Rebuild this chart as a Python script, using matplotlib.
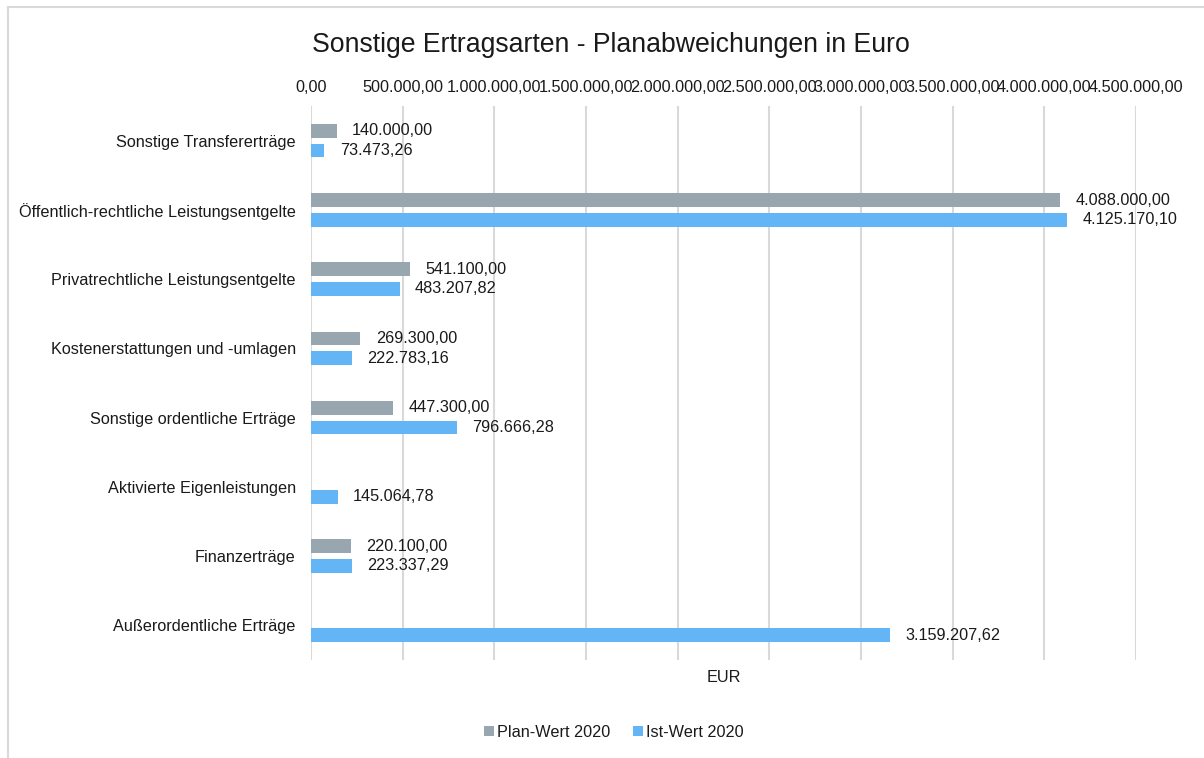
import numpy as np
import matplotlib
matplotlib.use("Agg")
import matplotlib.pyplot as plt
from matplotlib import font_manager as fm
from matplotlib.lines import Line2D
from matplotlib.ticker import FuncFormatter

# Narrow-Variante ausschliessen, damit normales Liberation Sans gewaehlt wird
fm.fontManager.ttflist = [f for f in fm.fontManager.ttflist if 'Narrow' not in f.fname]
plt.rcParams['font.family'] = ['Liberation Sans', 'DejaVu Sans']

# Daten
kategorien = [
    "Sonstige Transfererträge",
    "Öffentlich-rechtliche Leistungsentgelte",
    "Privatrechtliche Leistungsentgelte",
    "Kostenerstattungen und -umlagen",
    "Sonstige ordentliche Erträge",
    "Aktivierte Eigenleistungen",
    "Finanzerträge",
    "Außerordentliche Erträge",
]
plan_2020 = [140000.00, 4088000.00, 541100.00, 269300.00, 447300.00, np.nan, 220100.00, np.nan]
ist_2020 = [73473.26, 4125170.10, 483207.82, 222783.16, 796666.28, 145064.78, 223337.29, 3159207.62]
x_ticks = np.arange(0, 4500001, 500000)

col_plan = '#97A6AF'
col_ist = '#64B5F6'
txt = '#1a1a1a'
fs = 11.7


def de(v):
    s = f"{v:,.2f}"
    return s.replace(",", "X").replace(".", ",").replace("X", ".")


fig = plt.figure(figsize=(12.04, 7.58), dpi=100)
ax = fig.add_axes([0.2583, 0.1293, 0.6852, 0.7309])

y = np.arange(len(kategorien))
h = 0.2
off = 0.142
ax.barh(y - off, plan_2020, height=h, color=col_plan, label='Plan-Wert 2020', zorder=3)
ax.barh(y + off, ist_2020, height=h, color=col_ist, label='Ist-Wert 2020', zorder=3)

for i in range(len(kategorien)):
    if not np.isnan(plan_2020[i]):
        ax.annotate(de(plan_2020[i]), (plan_2020[i], y[i] - off), xytext=(11, 0),
                    textcoords='offset points', va='center', ha='left', fontsize=fs, color=txt)
    ax.annotate(de(ist_2020[i]), (ist_2020[i], y[i] + off), xytext=(11, 0),
                textcoords='offset points', va='center', ha='left', fontsize=fs, color=txt)

ax.set_xlim(0, 4500000)
ax.set_ylim(len(kategorien) - 0.5, -0.5)
ax.set_xticks(x_ticks)
ax.xaxis.set_major_formatter(FuncFormatter(lambda v, p: de(v)))
ax.xaxis.tick_top()
ax.tick_params(axis='x', length=0, pad=8, labelsize=fs, labelcolor=txt)
ax.set_yticks(y)
ax.set_yticklabels(kategorien)
ax.tick_params(axis='y', length=0, pad=11, labelsize=fs, labelcolor=txt)
ax.grid(axis='x', color='#D9D9D9', linewidth=1.5, zorder=0)
for s in ax.spines.values():
    s.set_visible(False)

ax.set_xlabel('EUR', fontsize=fs, color=txt)
ax.xaxis.set_label_position('bottom')
ax.xaxis.labelpad = 7

fig.text(0.5075, 0.941, 'Sonstige Ertragsarten - Planabweichungen in Euro',
         ha='center', va='center', fontsize=19.2, color=txt)

fig.legend(loc='center', bbox_to_anchor=(0.51, 0.034), ncol=2, frameon=False,
           fontsize=fs, handlelength=0.6, handleheight=0.6, handletextpad=0.2,
           columnspacing=1.4, labelcolor=txt)

# Rahmen
fig.add_artist(Line2D([8 / 1204, 1], [1 - 7 / 758, 1 - 7 / 758], color='#D9D9D9', lw=1.5,
                      transform=fig.transFigure))
fig.add_artist(Line2D([8 / 1204, 8 / 1204], [0, 1 - 7 / 758], color='#D9D9D9', lw=1.5,
                      transform=fig.transFigure))

fig.savefig('out.png', dpi=100)
